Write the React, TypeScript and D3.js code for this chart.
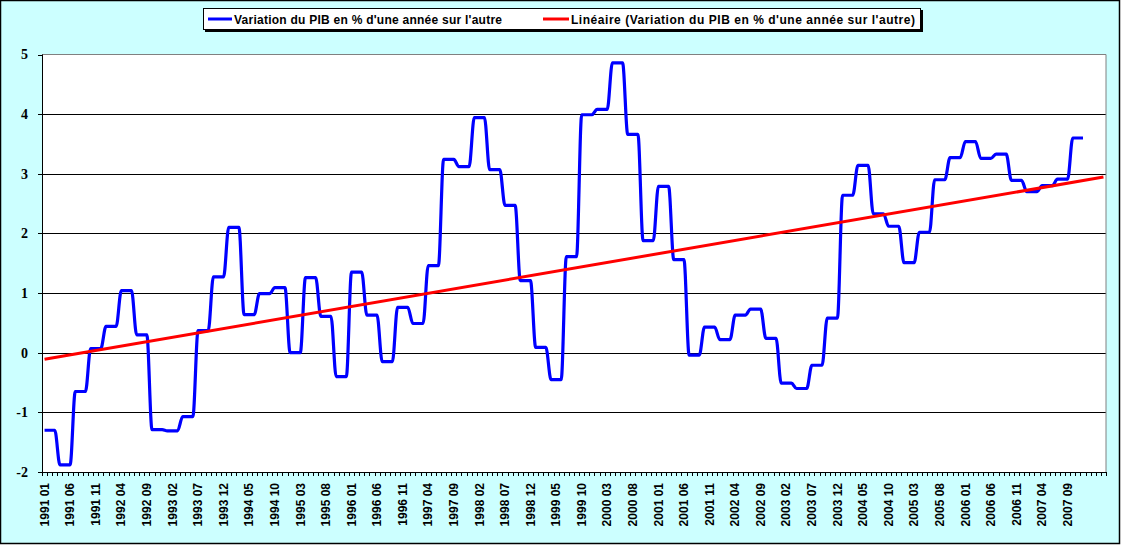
import React from 'react';
import * as d3 from 'd3';

// Données mensuelles (valeur trimestrielle répétée sur chaque mois)
const years = [1991, 1992, 1993, 1994, 1995, 1996, 1997, 1998, 1999, 2000, 2001, 2002, 2003, 2004, 2005, 2006, 2007];
const monthCodes = ['01', '02', '03', '04', '05', '06', '07', '08', '09', '10', '11', '12'];

const pibValues = [
    -1.30, -1.30, -1.30, -1.88, -1.88, -1.88, -0.65, -0.65, -0.65, 0.07, 0.07, 0.07, // 1991
    0.44, 0.44, 0.44, 1.04, 1.04, 1.04, 0.30, 0.30, 0.30, -1.29, -1.29, -1.29, // 1992
    -1.31, -1.31, -1.31, -1.07, -1.07, -1.07, 0.37, 0.37, 0.37, 1.27, 1.27, 1.27, // 1993
    2.10, 2.10, 2.10, 0.64, 0.64, 0.64, 0.99, 0.99, 0.99, 1.09, 1.09, 1.09, // 1994
    0.00, 0.00, 0.00, 1.26, 1.26, 1.26, 0.61, 0.61, 0.61, -0.40, -0.40, -0.40, // 1995
    1.35, 1.35, 1.35, 0.63, 0.63, 0.63, -0.15, -0.15, -0.15, 0.76, 0.76, 0.76, // 1996
    0.49, 0.49, 0.49, 1.46, 1.46, 1.46, 3.24, 3.24, 3.24, 3.12, 3.12, 3.12, // 1997
    3.94, 3.94, 3.94, 3.07, 3.07, 3.07, 2.47, 2.47, 2.47, 1.21, 1.21, 1.21, // 1998
    0.09, 0.09, 0.09, -0.45, -0.45, -0.45, 1.61, 1.61, 1.61, 3.99, 3.99, 3.99, // 1999
    4.08, 4.08, 4.08, 4.86, 4.86, 4.86, 3.66, 3.66, 3.66, 1.88, 1.88, 1.88, // 2000
    2.79, 2.79, 2.79, 1.56, 1.56, 1.56, -0.04, -0.04, -0.04, 0.43, 0.43, 0.43, // 2001
    0.22, 0.22, 0.22, 0.63, 0.63, 0.63, 0.73, 0.73, 0.73, 0.24, 0.24, 0.24, // 2002
    -0.51, -0.51, -0.51, -0.60, -0.60, -0.60, -0.21, -0.21, -0.21, 0.58, 0.58, 0.58, // 2003
    2.64, 2.64, 2.64, 3.14, 3.14, 3.14, 2.33, 2.33, 2.33, 2.12, 2.12, 2.12, // 2004
    1.51, 1.51, 1.51, 2.02, 2.02, 2.02, 2.90, 2.90, 2.90, 3.27, 3.27, 3.27, // 2005
    3.54, 3.54, 3.54, 3.26, 3.26, 3.26, 3.33, 3.33, 3.33, 2.89, 2.89, 2.89, // 2006
    2.70, 2.70, 2.70, 2.80, 2.80, 2.80, 2.91, 2.91, 2.91, 3.60, 3.60, 3.60, // 2007
];

const yTicks = [-2, -1, 0, 1, 2, 3, 4, 5];
const forecastPeriods = 4; // prolongation de la courbe de tendance
const labelStep = 5;

const seriesName = "Variation du PIB en % d'une année sur l'autre";
const trendName = "Linéaire (Variation du PIB en % d'une année sur l'autre)";

const categories = years.flatMap(y => monthCodes.map(m => `${y} ${m}`));

export default function App() {
    const width = 1121;
    const height = 545;
    const plot = { left: 42, right: 1106, top: 54.5, bottom: 472 };

    const nCats = categories.length + forecastPeriods;

    const x = d3.scaleLinear()
        .domain([0, nCats])
        .range([plot.left, plot.right]);
    const xc = (i: number) => x(i + 0.5);

    const y = d3.scaleLinear()
        .domain([-2, 5])
        .range([plot.bottom, plot.top]);

    // Régression linéaire (comme la courbe de tendance d'Excel)
    const idx = pibValues.map((_, i) => i);
    const mx = d3.mean(idx) as number;
    const my = d3.mean(pibValues) as number;
    const slope = d3.sum(idx, i => (i - mx) * (pibValues[i] - my)) / d3.sum(idx, i => (i - mx) ** 2);
    const intercept = my - slope * mx;
    const trendPts: [number, number][] = [0, nCats - 1].map(i => [i, intercept + slope * i]);

    const line = d3.line<number>()
        .x((_, i) => xc(i))
        .y(d => y(d))
        .curve(d3.curveMonotoneX);

    const trendLine = d3.line<[number, number]>()
        .x(d => xc(d[0]))
        .y(d => y(d[1]));

    const tickIdx = d3.range(nCats + 1);
    const labelIdx = categories.map((_, i) => i).filter(i => i % labelStep === 0);

    const sans = 'Arial, "Liberation Sans", sans-serif';
    const serif = '"Times New Roman", "Liberation Serif", serif';

    return (
        <svg width={width} height={height} style={{ position: 'absolute', left: 0, top: 0 }}>
            <rect x={0.5} y={0.5} width={1119} height={543} fill="#CCFFFF" stroke="#000" strokeWidth={1.5} />

            {/* Zone de traçage */}
            <rect x={plot.left} y={plot.top} width={plot.right - plot.left} height={plot.bottom - plot.top} fill="#fff" />

            {/* Quadrillage */}
            {yTicks.filter(t => t !== 5 && t !== -2).map(t => (
                <line key={t} x1={plot.left} x2={plot.right} y1={Math.round(y(t)) + 0.5} y2={Math.round(y(t)) + 0.5} stroke="#000" strokeWidth={1} />
            ))}
            <line x1={plot.left} x2={plot.right} y1={plot.top} y2={plot.top} stroke="#808080" strokeWidth={1} />
            <line x1={plot.right} x2={plot.right} y1={plot.top} y2={plot.bottom} stroke="#808080" strokeWidth={1} />

            {/* Axe Y */}
            <line x1={plot.left + 0.5} x2={plot.left + 0.5} y1={plot.top} y2={plot.bottom} stroke="#000" strokeWidth={1} />
            {yTicks.map(t => (
                <g key={t}>
                    <line x1={plot.left - 4} x2={plot.left} y1={Math.round(y(t)) + 0.5} y2={Math.round(y(t)) + 0.5} stroke="#000" />
                    <text x={28} y={y(t)} dy="0.35em" textAnchor="end" fontFamily={serif} fontWeight="bold" fontSize={14} fill="#000">
                        {t}
                    </text>
                </g>
            ))}

            {/* Axe X */}
            <line x1={plot.left} x2={plot.right} y1={plot.bottom + 0.5} y2={plot.bottom + 0.5} stroke="#000" strokeWidth={1} />
            {tickIdx.map(i => (
                <line key={i} x1={Math.round(x(i)) + 0.5} x2={Math.round(x(i)) + 0.5} y1={plot.bottom} y2={plot.bottom + 4} stroke="#000" />
            ))}
            {labelIdx.map(i => (
                <text key={i} transform={`translate(${xc(i)},${plot.bottom + 11}) rotate(-90)`} dy="0.35em" textAnchor="end"
                    fontFamily={sans} fontWeight="bold" fontSize={12} fill="#000">
                    {categories[i]}
                </text>
            ))}

            {/* Séries */}
            <path d={line(pibValues) || ''} fill="none" stroke="#0000FF" strokeWidth={3.2} strokeLinejoin="round" />
            <path d={trendLine(trendPts) || ''} fill="none" stroke="#FF0000" strokeWidth={3} />

            {/* Légende */}
            <rect x={205} y={10} width={718} height={22} fill="#000" />
            <rect x={203.5} y={8.5} width={717} height={21} fill="#fff" stroke="#000" strokeWidth={1} />
            <line x1={208} x2={232} y1={19} y2={19} stroke="#0000FF" strokeWidth={3} />
            <text x={234} y={23.5} textLength={268} lengthAdjust="spacing" fontFamily={sans} fontWeight="bold" fontSize={12} fill="#000">{seriesName}</text>
            <line x1={543} x2={569} y1={19} y2={19} stroke="#FF0000" strokeWidth={3} />
            <text x={571} y={23.5} textLength={344} lengthAdjust="spacing" fontFamily={sans} fontWeight="bold" fontSize={12} fill="#000">{trendName}</text>
        </svg>
    );
}
